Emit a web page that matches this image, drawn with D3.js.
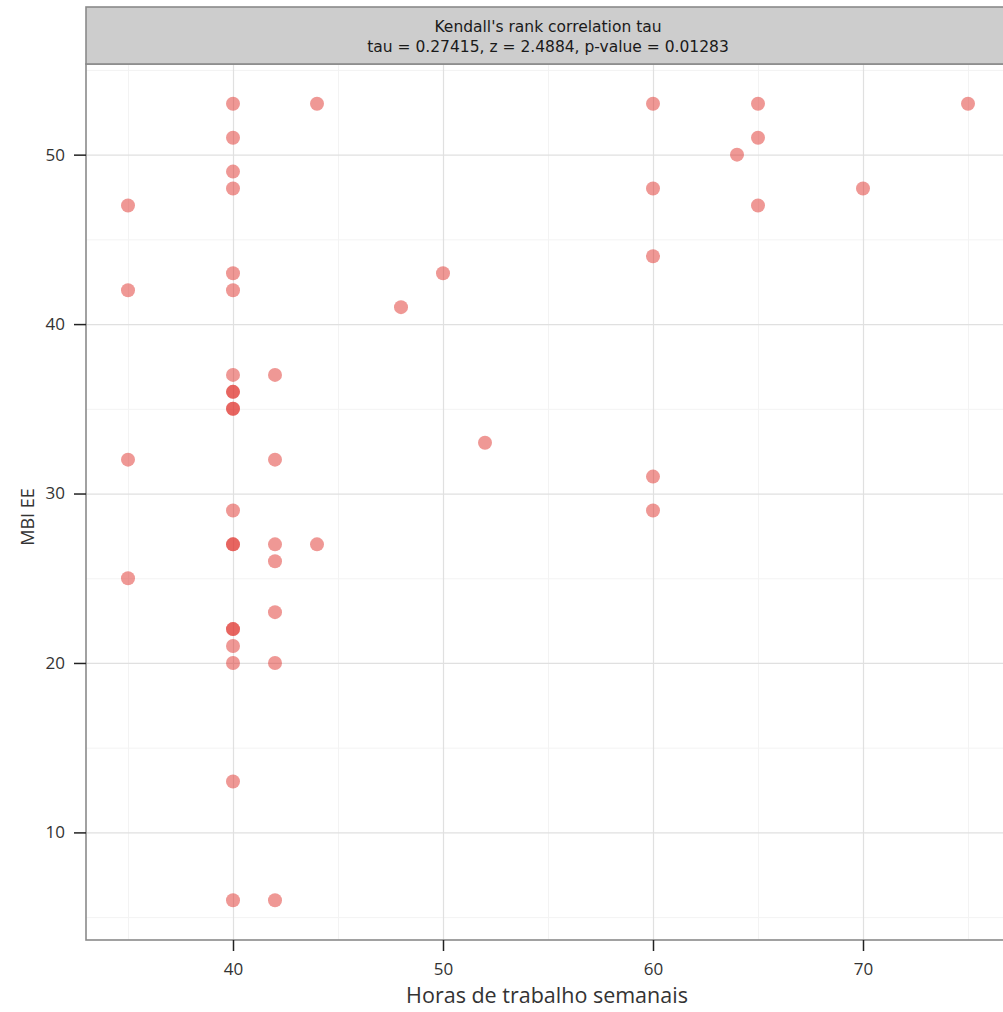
<html lang="pt">
<head>
  <meta charset="UTF-8" />
  <title>MBI EE vs horas</title>
  <script src="https://d3js.org/d3.v7.min.js"></script>
  <style>
    body { margin: 0; background: #fff; }
    text { font-family: "Open Sans", "Noto Sans", sans-serif; fill: #333; }
    .strip text { fill: #1a1a1a; font-family: "DejaVu Sans", sans-serif; }
    .grid .domain { display: none; }
    .axis .domain { display: none; }
  </style>
</head>
<body>
  <svg id="chart" width="1003" height="1012"></svg>
  <script>
    // data
    const hours = [35, 35, 35, 35,
      40, 40, 40, 40, 40, 40, 40, 40, 40, 40, 40, 40, 40, 40, 40, 40, 40, 40, 40, 40,
      42, 42, 42, 42, 42, 42, 42,
      44, 44, 48, 50, 52,
      60, 60, 60, 60, 60,
      64, 65, 65, 65, 70, 75];
    const mbiEE = [47, 42, 32, 25,
      53, 51, 49, 48, 43, 42, 37, 36, 36, 35, 35, 29, 27, 27, 22, 22, 21, 20, 13, 6,
      37, 32, 27, 26, 23, 20, 6,
      53, 27, 41, 43, 33,
      53, 48, 44, 31, 29,
      50, 53, 51, 47, 48, 53];
    const xTicks = [40, 50, 60, 70];
    const yTicks = [10, 20, 30, 40, 50];
    const xMinor = [35, 45, 55, 65, 75];
    const yMinor = [5, 15, 25, 35, 45, 55];
    const stripLines = ["Kendall's rank correlation tau",
      "tau = 0.27415, z = 2.4884, p-value = 0.01283"];
    const xLabel = "Horas de trabalho semanais";
    const yLabel = "MBI EE";

    const svg = d3.select("svg#chart");
    const panel = { left: 86, top: 64, right: 1010, bottom: 940 };
    const stripTop = 7;

    // ggplot-like 5% expansion
    const xExt = d3.extent(hours), yExt = d3.extent(mbiEE);
    const xPad = (xExt[1] - xExt[0]) * 0.05, yPad = (yExt[1] - yExt[0]) * 0.05;
    const x = d3.scaleLinear().domain([xExt[0] - xPad, xExt[1] + xPad]).range([panel.left, panel.right]);
    const y = d3.scaleLinear().domain([yExt[0] - yPad, yExt[1] + yPad]).range([panel.bottom, panel.top]);
    const pw = panel.right - panel.left, ph = panel.bottom - panel.top;

    // panel background
    svg.append("rect")
      .attr("x", panel.left).attr("y", panel.top)
      .attr("width", pw).attr("height", ph)
      .attr("fill", "#fff");

    // minor gridlines
    svg.append("g").attr("class", "grid")
      .attr("transform", `translate(0,${panel.bottom})`)
      .call(d3.axisBottom(x).tickValues(xMinor).tickSize(-ph).tickFormat(""))
      .selectAll("line").attr("stroke", "#f3f3f3").attr("stroke-width", 1);
    svg.append("g").attr("class", "grid")
      .attr("transform", `translate(${panel.left},0)`)
      .call(d3.axisLeft(y).tickValues(yMinor).tickSize(-pw).tickFormat(""))
      .selectAll("line").attr("stroke", "#f3f3f3").attr("stroke-width", 1);

    // major gridlines
    svg.append("g").attr("class", "grid")
      .attr("transform", `translate(0,${panel.bottom})`)
      .call(d3.axisBottom(x).tickValues(xTicks).tickSize(-ph).tickFormat(""))
      .selectAll("line").attr("stroke", "#e0e0e0").attr("stroke-width", 1.2);
    svg.append("g").attr("class", "grid")
      .attr("transform", `translate(${panel.left},0)`)
      .call(d3.axisLeft(y).tickValues(yTicks).tickSize(-pw).tickFormat(""))
      .selectAll("line").attr("stroke", "#e0e0e0").attr("stroke-width", 1.2);

    // points
    svg.append("g")
      .selectAll("circle")
      .data(d3.zip(hours, mbiEE))
      .join("circle")
      .attr("cx", d => x(d[0]))
      .attr("cy", d => y(d[1]))
      .attr("r", 7)
      .attr("fill", "#e0312c")
      .attr("fill-opacity", 0.5);

    // panel border
    svg.append("rect")
      .attr("x", panel.left).attr("y", panel.top)
      .attr("width", pw).attr("height", ph)
      .attr("fill", "none")
      .attr("stroke", "#8a8a8a")
      .attr("stroke-width", 1.6);

    // strip
    const strip = svg.append("g").attr("class", "strip");
    strip.append("rect")
      .attr("x", panel.left).attr("y", stripTop)
      .attr("width", pw).attr("height", panel.top - stripTop)
      .attr("fill", "#cdcdcd")
      .attr("stroke", "#8a8a8a")
      .attr("stroke-width", 1.6);
    strip.selectAll("text")
      .data(stripLines)
      .join("text")
      .attr("x", 548)
      .attr("y", (d, i) => 32 + i * 20)
      .attr("text-anchor", "middle")
      .attr("font-size", 15.5)
      .text(d => d);

    // axes
    const bottomAxis = svg.append("g").attr("class", "axis")
      .attr("transform", `translate(0,${panel.bottom})`)
      .call(d3.axisBottom(x).tickValues(xTicks).tickSize(11).tickPadding(12).tickFormat(d3.format("d")));
    bottomAxis.selectAll("line").attr("stroke", "#222").attr("stroke-width", 1.5);
    bottomAxis.selectAll("text").attr("font-size", 17).attr("fill", "#333");

    const leftAxis = svg.append("g").attr("class", "axis")
      .attr("transform", `translate(${panel.left},0)`)
      .call(d3.axisLeft(y).tickValues(yTicks).tickSize(12).tickPadding(9).tickFormat(d3.format("d")));
    leftAxis.selectAll("line").attr("stroke", "#222").attr("stroke-width", 1.5);
    leftAxis.selectAll("text").attr("font-size", 17).attr("fill", "#333");

    // axis titles
    svg.append("text")
      .attr("x", (panel.left + panel.right) / 2 - 1)
      .attr("y", 1003)
      .attr("text-anchor", "middle")
      .attr("font-size", 21.5)
      .text(xLabel);

    svg.append("text")
      .attr("transform", `translate(34,517) rotate(-90)`)
      .attr("text-anchor", "middle")
      .attr("font-size", 18)
      .text(yLabel);
  </script>
</body>
</html>
